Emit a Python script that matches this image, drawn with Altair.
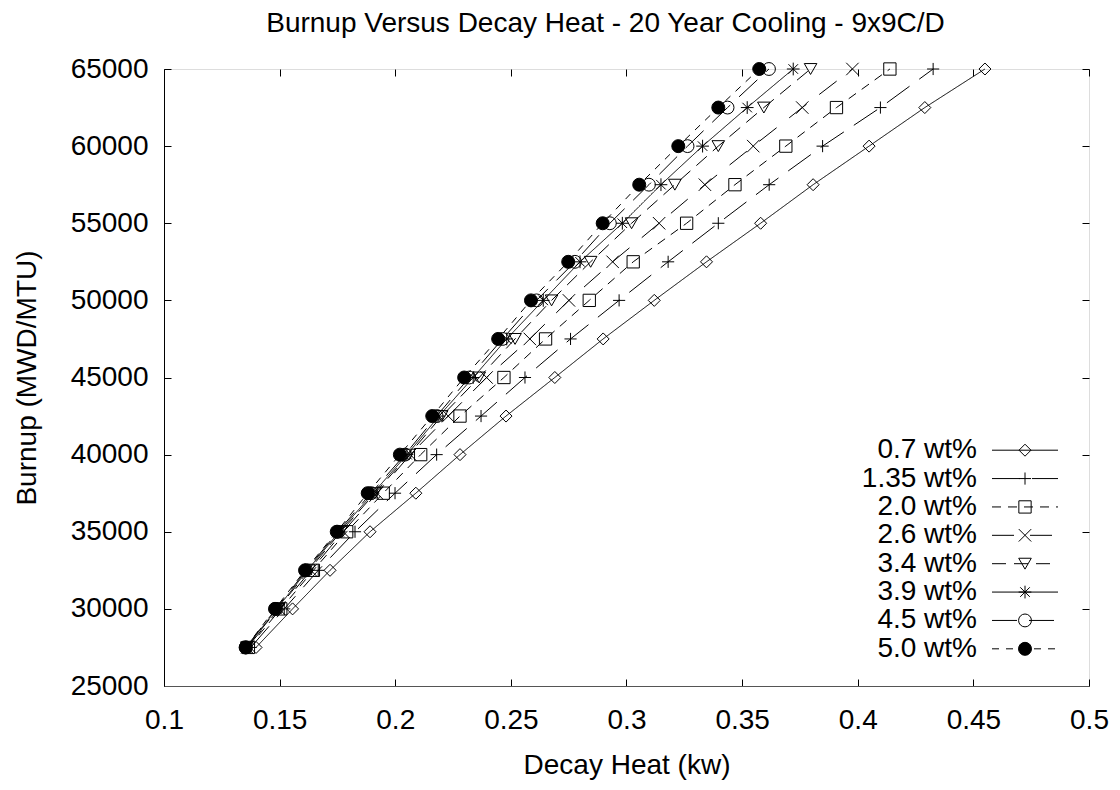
import altair as alt
import pandas as pd

FONT = "Liberation Sans"

burnup = [27500, 30000, 32500, 35000, 37500, 40000, 42500, 45000,
          47500, 50000, 52500, 55000, 57500, 60000, 62500, 65000]

series_names = ["0.7 wt%", "1.35 wt%", "2.0 wt%", "2.6 wt%",
                "3.4 wt%", "3.9 wt%", "4.5 wt%", "5.0 wt%"]

heat_07 = [0.1398, 0.1556, 0.1718, 0.1891, 0.2089, 0.2280, 0.2479, 0.2690,
           0.2899, 0.3120, 0.3346, 0.3580, 0.3807, 0.4049, 0.4290, 0.4550]
heat_135 = [0.1375, 0.1520, 0.1667, 0.1826, 0.1999, 0.2179, 0.2371, 0.2561,
            0.2758, 0.2968, 0.3180, 0.3397, 0.3617, 0.3848, 0.4098, 0.4326]
heat_20 = [0.1365, 0.1505, 0.1646, 0.1790, 0.1948, 0.2110, 0.2280, 0.2470,
           0.2650, 0.2839, 0.3029, 0.3260, 0.3469, 0.3689, 0.3908, 0.4139]
heat_26 = [0.1360, 0.1498, 0.1635, 0.1775, 0.1921, 0.2065, 0.2229, 0.2395,
           0.2582, 0.2751, 0.2940, 0.3141, 0.3339, 0.3548, 0.3760, 0.3977]
heat_34 = [0.1358, 0.1492, 0.1626, 0.1765, 0.1912, 0.2059, 0.2201, 0.2363,
           0.2518, 0.2676, 0.2845, 0.3022, 0.3209, 0.3397, 0.3594, 0.3796]
heat_39 = [0.1356, 0.1488, 0.1620, 0.1758, 0.1904, 0.2051, 0.2189, 0.2337,
           0.2482, 0.2640, 0.2799, 0.2982, 0.3149, 0.3329, 0.3522, 0.3721]
heat_45 = [0.1354, 0.1484, 0.1615, 0.1752, 0.1895, 0.2042, 0.2179, 0.2320,
           0.2464, 0.2611, 0.2777, 0.2928, 0.3097, 0.3264, 0.3437, 0.3616]
heat_50 = [0.1353, 0.1480, 0.1610, 0.1747, 0.1881, 0.2020, 0.2160, 0.2298,
           0.2445, 0.2587, 0.2748, 0.2897, 0.3055, 0.3224, 0.3397, 0.3574]

x_ticks = [0.1, 0.15, 0.2, 0.25, 0.3, 0.35, 0.4, 0.45, 0.5]
y_ticks = [25000, 30000, 35000, 40000, 45000, 50000, 55000, 60000, 65000]

all_heat = [heat_07, heat_135, heat_20, heat_26, heat_34, heat_39, heat_45, heat_50]

rows = []
for name, vals in zip(series_names, all_heat):
    for b, h in zip(burnup, vals):
        rows.append({"series": name, "burnup": b, "heat": h})
df = pd.DataFrame(rows)
leg_df = pd.DataFrame({"series": series_names})

W, H = 925, 617
FS = 28

dash_scale = alt.Scale(domain=series_names,
                       range=[[1, 0], [28, 12], [9, 7], [22, 16], [14, 8], [1, 0], [25, 12], [7, 7]])
shape_scale = alt.Scale(domain=series_names, range=[
    "diamond",
    "M-1,0L1,0M0,-1L0,1",
    "square",
    "M-1,-1L1,1M-1,1L1,-1",
    "triangle-down",
    "M-1,0L1,0M0,-1L0,1M-0.75,-0.75L0.75,0.75M-0.75,0.75L0.75,-0.75",
    "circle",
    "circle",
])
size_scale = alt.Scale(domain=series_names, range=[144, 169, 169, 144, 230, 169, 110, 121])
fill_scale = alt.Scale(domain=series_names, range=["transparent"] * 7 + ["black"])

x_enc = alt.X("heat:Q",
              scale=alt.Scale(domain=[0.1, 0.5], nice=False, zero=False),
              axis=alt.Axis(values=x_ticks, format="~g", title="Decay Heat (kw)",
                            labelFontSize=FS, titleFontSize=FS, labelFont=FONT, titleFont=FONT,
                            labelColor="black", titleColor="black", titleFontWeight="normal",
                            ticks=False, grid=True, gridDash=[7, H - 14], gridColor="black",
                            gridWidth=1, gridOpacity=1, domainColor="#555", domainWidth=1,
                            labelPadding=20, labelFlush=False, labelOverlap=False,
                            titleX=W / 2, titleY=79, titleBaseline="middle", titleAlign="center"))
y_enc = alt.Y("burnup:Q",
              scale=alt.Scale(domain=[25000, 65000], nice=False, zero=False),
              axis=alt.Axis(values=y_ticks, format="d", title="Burnup (MWD/MTU)",
                            labelFontSize=FS, titleFontSize=FS, labelFont=FONT, titleFont=FONT,
                            labelColor="black", titleColor="black", titleFontWeight="normal",
                            ticks=False, grid=True, gridDash=[7, W - 14], gridColor="black",
                            gridWidth=1, gridOpacity=1, domainColor="black", domainWidth=1,
                            labelPadding=16, labelOverlap=False, labelFlush=False,
                            titleX=-137, titleY=H / 2, titleBaseline="middle", titleAlign="center",
                            titleAngle=270))

base = alt.Chart(df)
lines = base.mark_line(color="black", strokeWidth=1).encode(
    x=x_enc, y=y_enc,
    strokeDash=alt.StrokeDash("series:N", scale=dash_scale, legend=None),
    detail="series:N",
)
points = base.mark_point(filled=True, stroke="black", strokeWidth=1, opacity=1).encode(
    x=x_enc, y=y_enc,
    shape=alt.Shape("series:N", scale=shape_scale, legend=None),
    size=alt.Size("series:N", scale=size_scale, legend=None),
    fill=alt.Fill("series:N", scale=fill_scale, legend=None),
)
main = alt.layer(lines, points)

ly = alt.Y("series:N", scale=alt.Scale(domain=series_names, range=[367, 594], padding=0), axis=None)
lbase = alt.Chart(leg_df)
leg_text = lbase.mark_text(align="right", baseline="middle", fontSize=FS, font=FONT, color="black").encode(
    x=alt.value(813), y=ly, text="series:N")
leg_rule = lbase.mark_rule(color="black", strokeWidth=1).encode(
    x=alt.value(828), x2=alt.value(894), y=ly,
    strokeDash=alt.StrokeDash("series:N", scale=dash_scale, legend=None))
leg_pts = lbase.mark_point(filled=True, stroke="black", strokeWidth=1, opacity=1).encode(
    x=alt.value(861), y=ly,
    shape=alt.Shape("series:N", scale=shape_scale, legend=None),
    size=alt.Size("series:N", scale=size_scale, legend=None),
    fill=alt.Fill("series:N", scale=fill_scale, legend=None),
)
legend = alt.layer(leg_text, leg_rule, leg_pts)

chart = alt.layer(main, legend).resolve_scale(y="independent").properties(
    width=W, height=H,
    title=alt.TitleParams("Burnup Versus Decay Heat - 20 Year Cooling - 9x9C/D",
                          fontSize=FS, font=FONT, fontWeight="normal", color="black",
                          anchor="middle", frame="group", offset=17, dx=-21),
    padding={"left": 156, "top": 61, "right": 23, "bottom": 96},
    autosize=alt.AutoSizeParams(type="none"),
).configure_view(stroke="#777", strokeWidth=1).configure(background="white")

chart.save("out.html", embed_options={"renderer": "svg", "actions": False})
